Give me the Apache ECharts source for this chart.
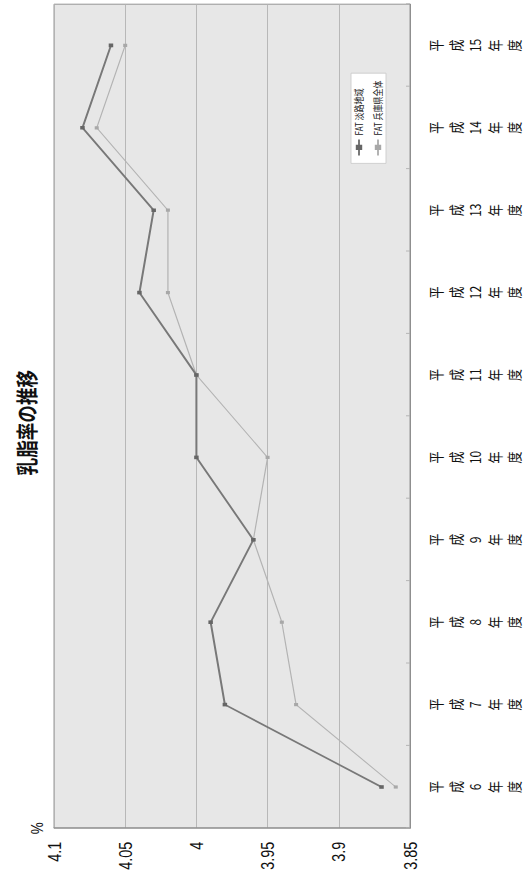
<!DOCTYPE html>
<html>
<head>
<meta charset="utf-8">
<script src="https://cdn.jsdelivr.net/npm/echarts@6/dist/echarts.min.js"></script>
<style>
  html, body { margin: 0; padding: 0; background: #fff; overflow: hidden; }
  body { width: 528px; height: 877px; position: relative; }
  /* chart is laid out landscape, then turned a quarter turn counter-clockwise */
  #chart {
    position: absolute; left: 0; top: 0;
    width: 1096px; height: 528px;
    transform-origin: 0 0;
    transform: translateY(877px) rotate(-90deg) scale(0.8, 1);
  }
</style>
</head>
<body>
<div id="chart"></div>
<script>
// 年度
const years = ['平成6年度', '平成7年度', '平成8年度', '平成9年度', '平成10年度',
               '平成11年度', '平成12年度', '平成13年度', '平成14年度', '平成15年度'];
// 乳脂率 (%)
const fatAwaji = [3.87, 3.98, 3.99, 3.96, 4.00, 4.00, 4.04, 4.03, 4.08, 4.06];
const fatHyogo = [3.86, 3.93, 3.94, 3.96, 3.95, 4.00, 4.02, 4.02, 4.07, 4.05];
const seriesNames = ['FAT 淡路地域', 'FAT 兵庫県全体'];
const titleText = '乳脂率の推移';
const unitText = '%';

const jp = '"Noto Sans CJK JP", "Liberation Sans", sans-serif';
const num = '"Liberation Sans", "Noto Sans CJK JP", sans-serif';

// stack each label character-wise, keeping the year digits together
function stackLabel(v) {
  const m = v.match(/^(平)(成)(\d+)(年)(度)$/);
  return m ? [m[1], m[2], m[3], m[4], m[5]].join('\n') : v;
}

const chart = echarts.init(document.getElementById('chart'), null, { renderer: 'svg' });
chart.setOption({
  backgroundColor: '#ffffff',
  animation: false,
  title: {
    text: titleText,
    left: 497, top: 10,
    textStyle: { fontFamily: jp, fontSize: 22, fontWeight: 'bold', color: '#111' }
  },
  legend: {
    orient: 'vertical',
    left: 892, top: 351,
    padding: [3, 9],
    itemWidth: 20, itemHeight: 8, itemGap: 9,
    backgroundColor: '#ffffff',
    borderColor: '#cccccc', borderWidth: 1,
    textStyle: { fontFamily: jp, fontSize: 10, color: '#222' },
    data: seriesNames
  },
  grid: {
    left: 61, right: 5, top: 54, bottom: 118,
    show: true,
    backgroundColor: '#e7e7e7',
    borderColor: '#8a8a8a', borderWidth: 1
  },
  xAxis: {
    type: 'category',
    data: years,
    boundaryGap: true,
    axisLine: { show: true, lineStyle: { color: '#8a8a8a' } },
    axisTick: { show: true, inside: true, length: 4, lineStyle: { color: '#b0b0b0' } },
    axisLabel: {
      formatter: stackLabel,
      interval: 0,
      margin: 16,
      fontFamily: jp, fontSize: 15, lineHeight: 19.5, color: '#111'
    },
    splitLine: { show: false }
  },
  yAxis: {
    type: 'value',
    min: 3.85, max: 4.1, interval: 0.05,
    name: unitText,
    nameLocation: 'end',
    nameGap: 9,
    nameTextStyle: { fontFamily: num, fontSize: 17, color: '#111', align: 'center' },
    axisLine: { show: true, lineStyle: { color: '#8a8a8a' } },
    axisTick: { show: false },
    axisLabel: { margin: 17, fontFamily: num, fontSize: 18, color: '#111' },
    splitLine: { show: true, lineStyle: { color: '#b2b2b2', width: 1 } }
  },
  series: [
    {
      name: seriesNames[1],
      type: 'line',
      data: fatHyogo,
      symbol: 'rect', symbolSize: 4,
      lineStyle: { color: '#b3b3b3', width: 1.2 },
      itemStyle: { color: '#a8a8a8' },
      z: 2
    },
    {
      name: seriesNames[0],
      type: 'line',
      data: fatAwaji,
      symbol: 'rect', symbolSize: 4.5,
      lineStyle: { color: '#787878', width: 2 },
      itemStyle: { color: '#666666' },
      z: 3
    }
  ]
});
</script>
</body>
</html>
